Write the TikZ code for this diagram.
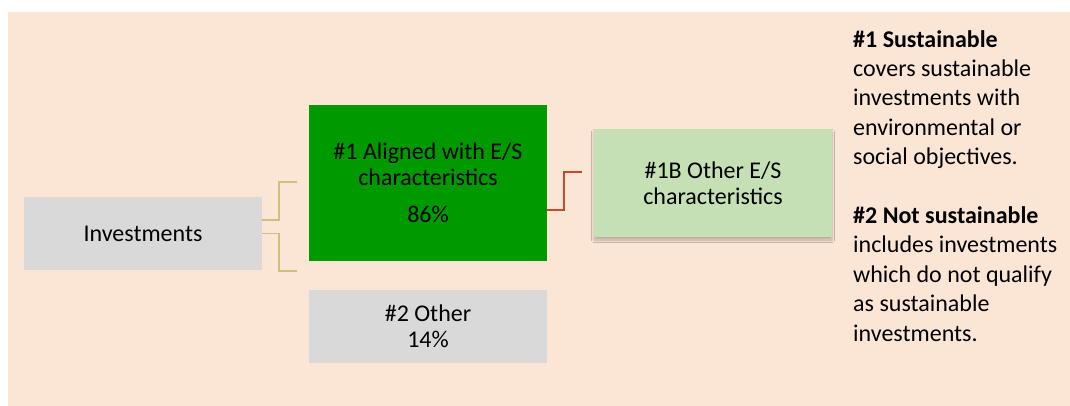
\documentclass[tikz,border=0pt]{standalone}
\usepackage{fontspec}
\setmainfont{Carlito}
\usetikzlibrary{shadows.blur}
\definecolor{peach}{HTML}{FBE6D6}
\definecolor{boxgray}{HTML}{D9D9D9}
\definecolor{esgreen}{HTML}{009900}
\definecolor{palegreen}{HTML}{C5E0B4}
\definecolor{khaki}{HTML}{CCC07A}
\definecolor{rust}{HTML}{C9472B}

\begin{document}
\begin{tikzpicture}[x=1pt, y=-1pt,
				   every node/.style={inner sep=0pt, font=\fontsize{24}{26}\selectfont},
				   box/.style={rectangle, minimum width=238pt, align=center},
				   khakiline/.style={draw=khaki, line width=1.6pt},
				   rustline/.style={draw=rust, line width=2pt}]
\useasboundingbox (0,0) rectangle (1070,406);
\fill[peach] (8,12) rectangle (1070,406);
\node[box, fill=boxgray, minimum height=73pt] (invest) at (143,233.5) {Investments};
\node[box, fill=esgreen, minimum height=156pt] (aligned) at (428,183) {\#1 Aligned with E/S\\characteristics\\[11pt]86\%};
\node[box, fill=boxgray, minimum height=73pt] (other) at (428,326.5) {\#2 Other\\14\%};
\node[box, fill=palegreen, minimum height=108pt, blur shadow={shadow xshift=0pt, shadow yshift=-3pt, shadow blur radius=2.5pt, shadow opacity=25}] (otheres) at (713,183) {\#1B Other E/S\\characteristics};
\coordinate (tipA) at (297,182);
\coordinate (tipB) at (297,271);
\coordinate (tipC) at (582,172);
\draw[khakiline] ([yshift=13.5pt]invest.east) -- ++(17,0) |- (tipA);
\draw[khakiline] (invest.east) -- ++(17,0) |- (tipB);
\draw[rustline] ([yshift=-27pt]aligned.east) -- ++(17,0) |- (tipC);
\node[anchor=north west, align=left, font=\fontsize{24}{29.4}\selectfont] (legend) at (853,30)
	{\textbf{\#1 Sustainable}\\covers sustainable\\investments with\\environmental or\\social objectives.\\[29.4pt]
	 \textbf{\#2 Not sustainable}\\includes investments\\which do not qualify\\as sustainable\\investments.};
\end{tikzpicture}
\end{document}
